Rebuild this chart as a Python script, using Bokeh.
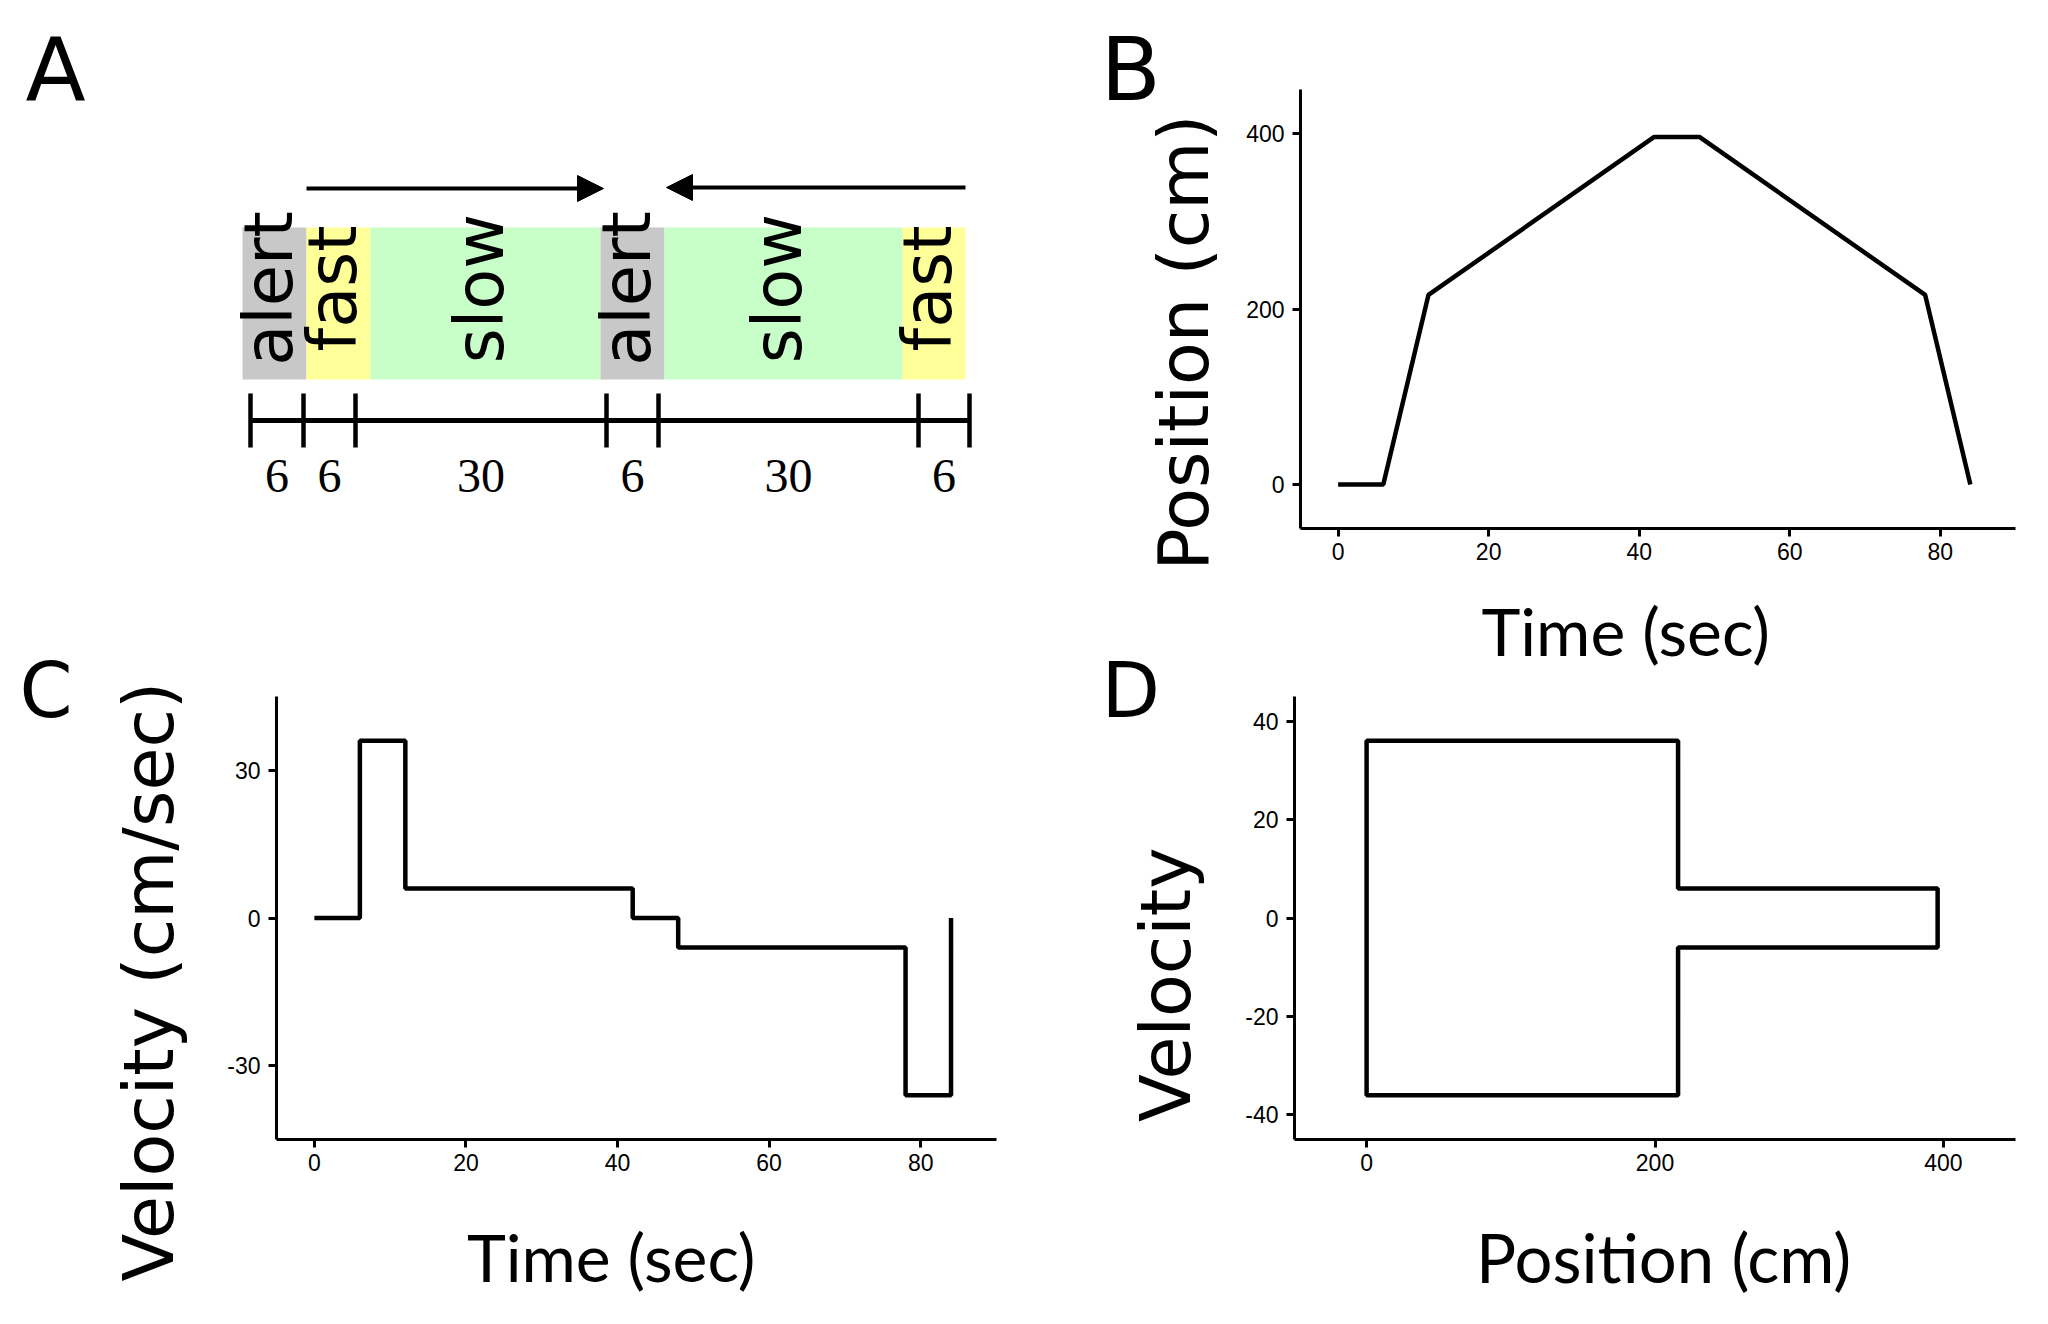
import math
from bokeh.plotting import figure
from bokeh.models import Range1d, FixedTicker, Arrow, NormalHead, Title
from bokeh.layouts import column, row
from bokeh.core.properties import value
from bokeh.embed import file_html
from bokeh.resources import INLINE

# ---------------- data ----------------
# trial schedule (panel A)
seg_labels = ["alert", "fast", "slow", "alert", "slow", "fast"]
seg_durations = [6, 6, 30, 6, 30, 6]          # seconds
seg_colors = ["#c8c8c8", "#ffff99", "#c8ffc8", "#c8c8c8", "#c8ffc8", "#ffff99"]
# schematic (not to scale) positions of the coloured blocks and of the scale-bar ticks
bar_edges = [242, 306, 370, 600, 664, 902, 965]
scale_ticks = [250, 303, 355, 606, 658, 918, 969]

# kinematics (panels B-D), values at the phase boundaries
time_s = [0, 6, 12, 42, 48, 78, 84]
position_cm = [0, 0, 216, 396, 396, 216, 0]
velocity_cms = [0, 36, 6, 0, -6, -36, 0]

time_ticks = [0, 20, 40, 60, 80]
pos_ticks_b = [0, 200, 400]
vel_ticks_c = [-30, 0, 30]
pos_ticks_d = [0, 200, 400]
vel_ticks_d = [-40, -20, 0, 20, 40]

# ---------------- style ----------------
TITLE_FONT = "DejaVu Sans"
XLAB_FONT = "Lato"
TICK_FONT = "Liberation Sans"
LINE_W = 4.5
NB = "\u00a0"


def make_fig(w, h, xr, yr, bl, br, bt, bb):
    p = figure(width=w, height=h, x_range=Range1d(*xr), y_range=Range1d(*yr),
               output_backend="svg", toolbar_location=None, title=None,
               min_border_left=bl, min_border_right=br,
               min_border_top=bt, min_border_bottom=bb)
    p.grid.visible = False
    p.outline_line_color = None
    p.background_fill_color = "white"
    p.border_fill_color = "white"
    return p


def style_axes(p, xt, yt):
    p.xaxis.ticker = FixedTicker(ticks=xt)
    p.yaxis.ticker = FixedTicker(ticks=yt)
    p.xaxis.major_label_overrides = {t: str(t) for t in xt}
    p.yaxis.major_label_overrides = {t: str(t) for t in yt}
    for ax in (p.xaxis[0], p.yaxis[0]):
        ax.axis_line_width = 3
        ax.axis_line_color = "black"
        ax.major_tick_line_width = 3
        ax.major_tick_line_color = "black"
        ax.major_tick_out = 8
        ax.major_tick_in = 0
        ax.minor_tick_line_color = None
        ax.major_label_text_font = TICK_FONT
        ax.major_label_text_font_size = "23px"
        ax.major_label_text_color = "black"
        ax.axis_label_text_font_style = "normal"
        ax.axis_label_text_color = "black"
    p.xaxis.major_label_standoff = 6
    p.yaxis.major_label_standoff = 8


def axis_title(ax, text, font, size, standoff):
    ax.axis_label = text
    ax.axis_label_text_font = font
    ax.axis_label_text_font_size = size
    ax.axis_label_standoff = standoff


def side_title(p, text, offset, standoff, side="above", font=TITLE_FONT, size="88px"):
    p.add_layout(Title(text=text, align="left", offset=offset, standoff=standoff,
                       vertical_align="bottom", text_font=font, text_font_size=size,
                       text_font_style="normal", text_color="black"), side)


TOP_H, BOT_H = 575, 749

# ---------------- panel A (schematic) ----------------
pA = figure(width=1100, height=TOP_H, x_range=Range1d(0, 1100), y_range=Range1d(528, 89),
            output_backend="svg", toolbar_location=None, title=None,
            x_axis_location=None, y_axis_location=None,
            min_border_left=0, min_border_right=0, min_border_top=89, min_border_bottom=47)
pA.grid.visible = False
pA.outline_line_color = None
pA.border_fill_color = "white"

bar_top, bar_bottom = 227, 379
pA.quad(left=bar_edges[:-1], right=bar_edges[1:], top=bar_top, bottom=bar_bottom,
        fill_color=seg_colors, line_color=None)
centers = [(a + b) / 2 for a, b in zip(bar_edges[:-1], bar_edges[1:])]
pA.text(x=[c - 6 for c in centers], y=[288] * len(centers), text=seg_labels,
        angle=math.pi / 2, text_align="center", text_baseline="middle",
        text_font=value(TITLE_FONT), text_font_size="67px", text_color="black")

scale_y = 420
pA.segment(x0=[scale_ticks[0]], x1=[scale_ticks[-1]], y0=[scale_y], y1=[scale_y],
           line_width=5, line_color="black")
pA.segment(x0=scale_ticks, x1=scale_ticks, y0=[scale_y - 27] * len(scale_ticks),
           y1=[scale_y + 27] * len(scale_ticks), line_width=4.5, line_color="black")
mids = [(a + b) / 2 for a, b in zip(scale_ticks[:-1], scale_ticks[1:])]
pA.text(x=mids, y=[475] * len(mids), text=[str(d) for d in seg_durations],
        text_align="center", text_baseline="alphabetic",
        text_font=value("Liberation Serif"), text_font_size="48px", text_color="black")

arrow_y = 188
for x0, x1, dy in ((bar_edges[1], bar_edges[3] + 3, 0), (bar_edges[6], bar_edges[4] + 2, -1)):
    pA.add_layout(Arrow(end=NormalHead(size=26, fill_color="black", line_color="black", line_width=1),
                        x_start=x0, y_start=arrow_y + dy, x_end=x1, y_end=arrow_y + dy,
                        line_width=4, line_color="black"))
side_title(pA, "A", 25, -62)

# ---------------- panel B ----------------
pB = make_fig(948, TOP_H, (-5, 90), (-50, 450), 200, 33, 89, 47)
style_axes(pB, time_ticks, pos_ticks_b)
pB.line(time_s, position_cm, line_width=LINE_W, line_color="black")
axis_title(pB.yaxis[0], "Position (cm)" + NB * 3, TITLE_FONT, "70px", 18)
side_title(pB, "B", -200, -62)

# ---------------- panel C ----------------
pC = make_fig(1100, BOT_H, (-5, 90), (-45, 45), 276, 104, 121, 185)
style_axes(pC, time_ticks, vel_ticks_c)
pC.step(time_s, velocity_cms, mode="after", line_width=LINE_W, line_color="black")
side_title(pC, "Velocity (cm/sec)", -142, 70, side="left", size="70px")
axis_title(pC.xaxis[0], "Time (sec)" + NB * 3, XLAB_FONT, "66px", 43)
side_title(pC, "C", -257, -76, size="76px")

# ---------------- panel D ----------------
pD = make_fig(948, BOT_H, (-50, 450), (-45, 45), 194, 33, 121, 185)
style_axes(pD, pos_ticks_d, vel_ticks_d)
pD.step(position_cm, velocity_cms, mode="after", line_width=LINE_W, line_color="black")
axis_title(pD.yaxis[0], "Velocity" + NB * 6, TITLE_FONT, "70px", 35)
axis_title(pD.xaxis[0], NB + "Position (cm)", XLAB_FONT, "67px", 43)
side_title(pD, "D", -193, -76, size="76px")
# x-axis title of panel B, which sits just above panel D
side_title(pD, "Time (sec)", 187, 23, font=XLAB_FONT, size="66px")

layout = column(row(pA, pB), row(pC, pD))
open("out.html", "w").write(file_html(layout, INLINE))
